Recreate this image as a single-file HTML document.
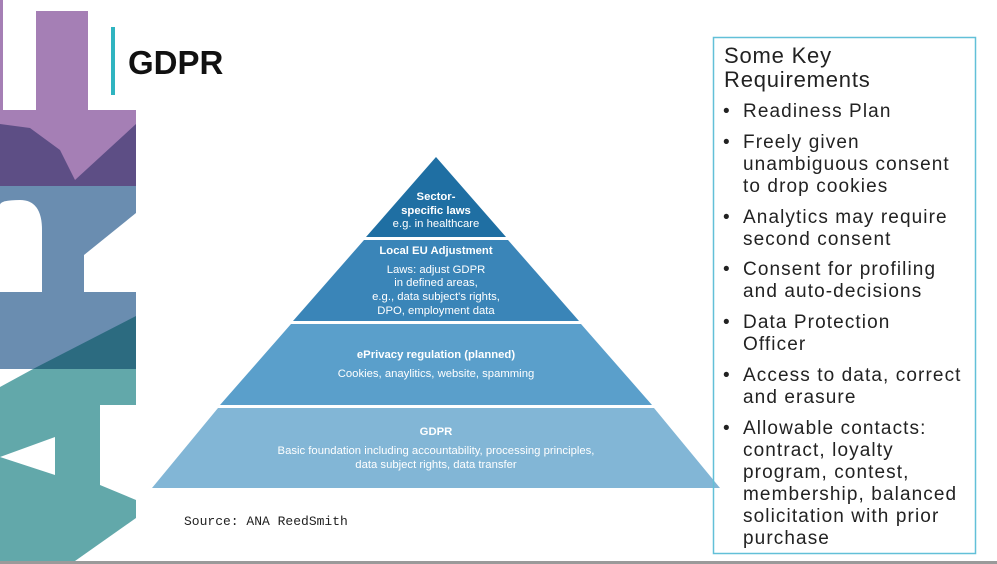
<!DOCTYPE html>
<html><head><meta charset="utf-8"><style>
body{margin:0;width:997px;height:564px;overflow:hidden;background:#fff;position:relative;font-family:"Liberation Sans",sans-serif}
.t{position:absolute;left:743px;font-size:19px;line-height:22px;color:#222;letter-spacing:1.1px;white-space:nowrap}
.b{position:absolute;left:723px;font-size:19px;line-height:22px;color:#222}
.h{position:absolute;left:724px;font-size:22px;line-height:26px;color:#222;letter-spacing:0.8px}
</style></head><body>
<svg width="997" height="564" style="position:absolute;left:0;top:0">
<rect x="0" y="0" width="3" height="110" fill="#a57fb5"/>
<rect x="36" y="11" width="52" height="99" fill="#a57fb5"/>
<rect x="0" y="110" width="136" height="76" fill="#5d4e85"/>
<polygon points="0,110 136,110 136,124 75,180 60,150 30,128 0,124" fill="#a57fb5"/>
<rect x="0" y="186" width="136" height="183" fill="#6a8db0"/>
<path d="M0,292 L0,205 Q0,200 20,200 Q42,200 42,230 L42,292 Z" fill="#fff"/>
<polygon points="136,213 84,255 84,292 136,292" fill="#fff"/>
<polygon points="136,316 136,369 33,369" fill="#2c6b80"/>
<rect x="0" y="369" width="136" height="192" fill="#62a8aa"/>
<polygon points="0,369 33,369 0,387" fill="#fff"/>
<polygon points="0,457 55,437 55,475" fill="#fff"/>
<polygon points="100,405 136,405 136,500 100,485" fill="#fff"/>
<polygon points="75,561 136,518 136,561" fill="#fff"/>
<rect x="0" y="561" width="997" height="3" fill="#9a9a9a"/>
<rect x="111" y="27" width="4" height="68" fill="#2fb4c0"/>
<polygon points="436,157 366,237 506,237" fill="#1f6fa3"/>
<polygon points="364,240 508,240 579,321 293,321" fill="#3a85b8"/>
<polygon points="291,324 581,324 652,405 220,405" fill="#5a9fcb"/>
<polygon points="218,408 654,408 720,488 152,488" fill="#82b6d6"/>
<g fill="#fff" font-family="Liberation Sans, sans-serif" text-anchor="middle" font-size="11.3">
<text x="436" y="200" font-weight="bold">Sector-</text>
<text x="436" y="214" font-weight="bold">specific laws</text>
<text x="436" y="227">e.g. in healthcare</text>
<text x="436" y="254" font-weight="bold">Local EU Adjustment</text>
<text x="436" y="273">Laws: adjust GDPR</text>
<text x="436" y="286">in defined areas,</text>
<text x="436" y="300">e.g., data subject's rights,</text>
<text x="436" y="314">DPO, employment data</text>
<text x="436" y="358" font-weight="bold">ePrivacy regulation (planned)</text>
<text x="436" y="377">Cookies, anaylitics, website, spamming</text>
<text x="436" y="435" font-weight="bold">GDPR</text>
<text x="436" y="454">Basic foundation including accountability, processing principles,</text>
<text x="436" y="468">data subject rights, data transfer</text>
</g>
<text x="184" y="525" font-family="Liberation Mono, monospace" font-size="13" fill="#222">Source: ANA ReedSmith</text>
<text x="128" y="74" font-family="Liberation Sans, sans-serif" font-weight="bold" font-size="33" fill="#111">GDPR</text>
<rect x="713.5" y="37.5" width="262" height="516" fill="none" stroke="#62c0d8" stroke-width="1.5"/>
</svg>
<div class="h" style="top:43px">Some Key</div>
<div class="h" style="top:67px">Requirements</div>
<div class="b" style="top:101px">•</div><div class="t" style="top:101px">Readiness Plan</div>
<div class="b" style="top:132px">•</div><div class="t" style="top:132px">Freely given</div>
<div class="t" style="top:154px">unambiguous consent</div>
<div class="t" style="top:176px">to drop cookies</div>
<div class="b" style="top:207px">•</div><div class="t" style="top:207px">Analytics may require</div>
<div class="t" style="top:229px">second consent</div>
<div class="b" style="top:259px">•</div><div class="t" style="top:259px">Consent for profiling</div>
<div class="t" style="top:281px">and auto-decisions</div>
<div class="b" style="top:312px">•</div><div class="t" style="top:312px">Data Protection</div>
<div class="t" style="top:334px">Officer</div>
<div class="b" style="top:365px">•</div><div class="t" style="top:365px">Access to data, correct</div>
<div class="t" style="top:387px">and erasure</div>
<div class="b" style="top:418px">•</div><div class="t" style="top:418px">Allowable contacts:</div>
<div class="t" style="top:440px">contract, loyalty</div>
<div class="t" style="top:462px">program, contest,</div>
<div class="t" style="top:484px">membership, balanced</div>
<div class="t" style="top:506px">solicitation with prior</div>
<div class="t" style="top:528px">purchase</div>
</body></html>
